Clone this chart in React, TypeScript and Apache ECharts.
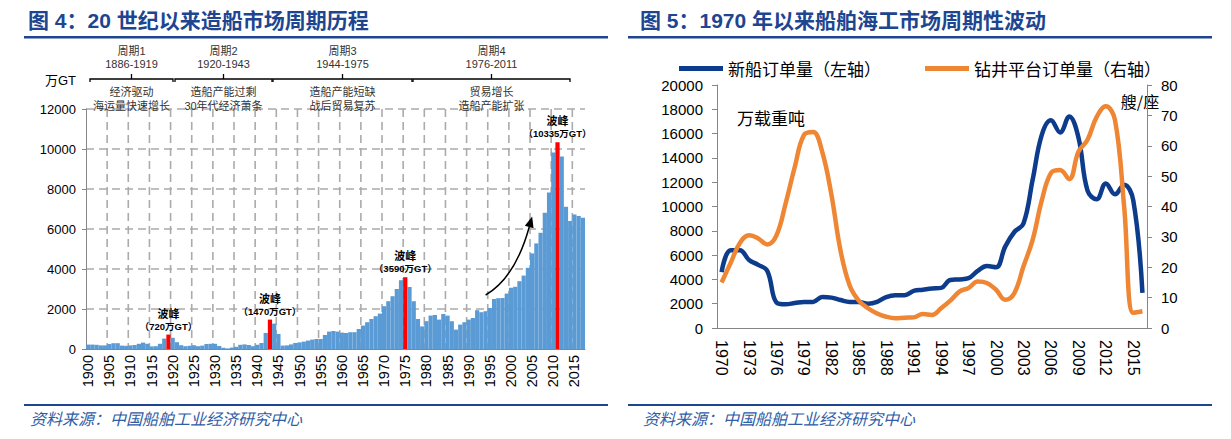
import React, { useEffect, useRef } from 'react';
import * as echarts from 'echarts';

// 图4：世界造船完工量（万GT），1900-2017
const barYears = Array.from({ length: 118 }, (_, i) => String(1900 + i));
const barValues = [
  220, 220, 210, 180, 180, 250, 290, 290, 170, 160,
  180, 200, 260, 320, 260, 130, 140, 260, 520, 720,
  560, 340, 190, 140, 160, 190, 140, 170, 250, 260,
  260, 150, 60, 30, 70, 110, 210, 230, 200, 140,
  210, 300, 800, 1470, 1270, 750, 170, 180, 230, 300,
  330, 370, 420, 470, 500, 500, 700, 870, 900, 870,
  820, 800, 840, 840, 1000, 1170, 1340, 1500, 1640, 1770,
  2140, 2390, 2640, 3000, 3440, 3590, 3100, 2390, 1500, 1130,
  1390, 1670, 1700, 1470, 1750, 1670, 1390, 970, 1220, 1340,
  1470, 1550, 1940, 1840, 1890, 2050, 2500, 2540, 2550, 2770,
  3060, 3110, 3390, 3670, 4060, 4780, 5280, 5810, 6810, 7820,
  9820, 10335, 9620, 7110, 6400, 6730, 6650, 6560,
];
const peakYears = ['1919', '1943', '1975', '2011'];
const barTicks = [2000, 4000, 6000, 8000, 10000, 12000];

const periodNames = ['周期1', '周期2', '周期3', '周期4'];
const periodSpans = ['1886-1919', '1920-1943', '1944-1975', '1976-2011'];
const periodDrivers = [
  ['经济驱动', '海运量快速增长'],
  ['造船产能过剩', '30年代经济萧条'],
  ['造船产能短缺', '战后贸易复苏'],
  ['贸易增长', '造船产能扩张'],
];

// 图5：新船订单量（万载重吨）与钻井平台订单量（艘/座），1970-2016
const lineYears = Array.from({ length: 47 }, (_, i) => String(1970 + i));
const newShipOrders = [
  4600, 6400, 6400, 5600, 5200, 4700, 2100, 1950, 2050, 2150,
  2150, 2550, 2500, 2300, 2150, 2150, 2000, 2150, 2550, 2700,
  2700, 3050, 3150, 3250, 3300, 3950, 4000, 4100, 4700, 5100,
  5000, 6700, 7900, 8600, 12200, 15900, 17100, 16100, 17400, 15700,
  11300, 10600, 11900, 11000, 11800, 10500, 2900,
];
const rigOrders = [
  15, 21.5, 28, 30.5, 29.5, 27.5, 30.5, 41, 53, 63.5,
  64.5, 58, 44, 25.5, 14, 9, 6.5, 4.8, 3.7, 3.2,
  3.4, 3.5, 4.6, 4.3, 6.5, 9, 12, 13.2, 15.3, 14.8,
  12.6, 9.3, 11.5, 20.3, 29, 42, 51, 52, 49, 58,
  62, 69.5, 73, 68.5, 40, 5, 5.5,
];

const LATIN = '"Liberation Sans", "Noto Sans CJK SC", sans-serif';
const CJK = '"Noto Sans CJK SC", sans-serif';
const TITLE_BLUE = '#1D4590';
const AXIS_GREY = '#868686';
const GRID_GREY = '#ABABAB';
const plain = (v: number) => String(v);

const App = () => {
  const chartRef = useRef<HTMLDivElement>(null);

  useEffect(() => {
    document.body.style.margin = '0';
    if (!chartRef.current) return;
    const chart = echarts.init(chartRef.current, null, { renderer: 'svg' });

    const barData = barValues.map((v, i) =>
      peakYears.includes(barYears[i])
        ? { value: v, itemStyle: { color: '#FF0000' }, label: { show: true } }
        : v
    );

    chart.setOption({
      animation: false,
      textStyle: { fontFamily: LATIN },
      legend: {
        data: ['新船订单量（左轴）', '钻井平台订单量（右轴）'],
        left: 674,
        top: 55,
        icon: 'rect',
        itemWidth: 44,
        itemHeight: 5,
        itemGap: 44,
        textStyle: { fontSize: 17, color: '#000', fontFamily: CJK },
      },
      grid: [
        { left: 86, top: 109, width: 499, height: 240 },
        { left: 717, top: 85, width: 430, height: 243 },
      ],
      xAxis: [
        {
          type: 'category',
          gridIndex: 0,
          data: barYears,
          axisLine: { lineStyle: { color: AXIS_GREY } },
          axisTick: { interval: 0, length: 3, lineStyle: { color: AXIS_GREY } },
          axisLabel: { interval: 4, rotate: 90, fontSize: 14.5, color: '#000', margin: 6 },
          splitLine: { show: false },
        },
        {
          type: 'category',
          gridIndex: 1,
          data: lineYears,
          axisLine: { lineStyle: { color: AXIS_GREY } },
          axisTick: { interval: 0, length: 5, lineStyle: { color: AXIS_GREY } },
          axisLabel: { interval: 2, rotate: -90, fontSize: 16, color: '#000', margin: 12 },
          splitLine: { show: false },
        },
      ],
      yAxis: [
        {
          type: 'value',
          gridIndex: 0,
          min: 0,
          max: 12000,
          interval: 2000,
          axisLine: { show: true, lineStyle: { color: AXIS_GREY } },
          axisTick: { show: true, length: 4, lineStyle: { color: AXIS_GREY } },
          axisLabel: { fontSize: 13, color: '#000', margin: 10, formatter: plain },
          splitLine: { show: false },
        },
        {
          type: 'value',
          gridIndex: 1,
          min: 0,
          max: 20000,
          interval: 2000,
          axisLine: { show: true, lineStyle: { color: AXIS_GREY } },
          axisTick: { show: true, length: 5, lineStyle: { color: AXIS_GREY } },
          axisLabel: { fontSize: 15, color: '#000', margin: 14, formatter: plain },
          splitLine: { show: false },
        },
        {
          type: 'value',
          gridIndex: 1,
          position: 'right',
          min: 0,
          max: 80,
          interval: 10,
          axisLine: { show: true, lineStyle: { color: AXIS_GREY } },
          axisTick: { show: true, length: 5, lineStyle: { color: AXIS_GREY } },
          axisLabel: { fontSize: 15, color: '#000', margin: 14, formatter: plain },
          splitLine: { show: false },
        },
      ],
      series: [
        {
          name: '造船完工量',
          type: 'bar',
          xAxisIndex: 0,
          yAxisIndex: 0,
          data: barData,
          barCategoryGap: '0%',
          z: 3,
          itemStyle: { color: '#5B9BD5' },
          label: {
            show: false,
            position: 'top',
            distance: 2,
            formatter: (p: any) => `{a|波峰}\n{b|（${p.value}万GT）}`,
            rich: {
              a: { fontSize: 11, fontWeight: 'bold', color: '#000', lineHeight: 14, fontFamily: CJK },
              b: { fontSize: 9.5, fontWeight: 'bold', color: '#000', lineHeight: 13 },
            },
          },
        },
        {
          name: '新船订单量（左轴）',
          type: 'line',
          xAxisIndex: 1,
          yAxisIndex: 1,
          data: newShipOrders,
          smooth: 0.4,
          showSymbol: false,
          lineStyle: { width: 4.5, color: '#0D3C8C' },
          itemStyle: { color: '#0D3C8C' },
        },
        {
          name: '钻井平台订单量（右轴）',
          type: 'line',
          xAxisIndex: 1,
          yAxisIndex: 2,
          data: rigOrders,
          smooth: 0.4,
          showSymbol: false,
          lineStyle: { width: 4.5, color: '#EF8633' },
          itemStyle: { color: '#EF8633' },
        },
      ],
    });

    const toPx = (x: string, y: number) =>
      chart.convertToPixel({ xAxisIndex: 0, yAxisIndex: 0 }, [x, y]) as number[];

    // dashed grid: every five years vertically, every tick horizontally
    const first = toPx(barYears[0], 0)[0];
    const last = toPx(barYears[barYears.length - 1], 0)[0];
    const band = (last - first) / (barYears.length - 1);
    const gridLeft = first - band / 2;
    const gridRight = last + band / 2;
    const gridTop = toPx(barYears[0], 12000)[1];
    const gridBottom = toPx(barYears[0], 0)[1];
    const dashLine = (x1: number, y1: number, x2: number, y2: number) => ({
      type: 'line',
      shape: { x1, y1, x2, y2 },
      style: { stroke: GRID_GREY, lineWidth: 1.6, lineDash: [8, 5] },
    });
    const gridLines: any[] = [];
    for (let k = 5; k < barYears.length; k += 5) {
      const xb = toPx(barYears[k], 0)[0] - band / 2;
      gridLines.push(dashLine(xb, gridTop, xb, gridBottom));
    }
    barTicks.forEach((t) => {
      const yb = toPx(barYears[0], t)[1];
      gridLines.push(dashLine(gridLeft, yb, gridRight, yb));
    });

    // curved arrow across the 1994-2005 climb, placed through the axes
    const a0 = toPx('1994', 2700);
    const ac = toPx('2001', 3560);
    const a1 = toPx('2005', 6630);
    const dx = a1[0] - ac[0];
    const dy = a1[1] - ac[1];
    const len = Math.hypot(dx, dy);
    const ux = dx / len;
    const uy = dy / len;
    const headL = 11;
    const headW = 4.5;
    const base = [a1[0] - ux * headL, a1[1] - uy * headL];

    const brackets = [
      [90, 173],
      [175, 272],
      [273, 412],
      [413, 570],
    ];
    const smallText = () => ({ fontSize: 11, fill: '#333', align: 'center', verticalAlign: 'middle', fontFamily: LATIN });

    const graphic: any[] = [
      { type: 'group', z: -1, children: gridLines },
      // titles and rules
      { type: 'text', x: 28, y: 20, style: { text: '图 4：20 世纪以来造船市场周期历程', fontSize: 21, fontWeight: 'bold', fill: TITLE_BLUE, verticalAlign: 'middle', fontFamily: LATIN } },
      { type: 'text', x: 640, y: 20, style: { text: '图 5：1970 年以来船舶海工市场周期性波动', fontSize: 21, fontWeight: 'bold', fill: TITLE_BLUE, verticalAlign: 'middle', fontFamily: LATIN } },
      { type: 'rect', shape: { x: 24, y: 36, width: 584, height: 2.5 }, style: { fill: TITLE_BLUE } },
      { type: 'rect', shape: { x: 628, y: 36, width: 584, height: 2.5 }, style: { fill: TITLE_BLUE } },
      { type: 'rect', shape: { x: 24, y: 404, width: 584, height: 2 }, style: { fill: TITLE_BLUE } },
      { type: 'rect', shape: { x: 628, y: 404, width: 584, height: 2 }, style: { fill: TITLE_BLUE } },
      { type: 'text', x: 30, y: 418, style: { text: '资料来源：中国船舶工业经济研究中心', fontSize: 16, fontStyle: 'italic', fill: '#2F5DA6', verticalAlign: 'middle', fontFamily: CJK } },
      { type: 'text', x: 643, y: 418, style: { text: '资料来源：中国船舶工业经济研究中心', fontSize: 16, fontStyle: 'italic', fill: '#2F5DA6', verticalAlign: 'middle', fontFamily: CJK } },
      // axis units
      { type: 'text', x: 76, y: 80, style: { text: '万GT', fontSize: 13, fill: '#000', align: 'right', verticalAlign: 'middle', fontFamily: LATIN } },
      { type: 'text', x: 737, y: 117, style: { text: '万载重吨', fontSize: 17, fill: '#000', verticalAlign: 'middle', fontFamily: CJK } },
      { type: 'text', x: 1140, y: 101, style: { text: '艘/座', fontSize: 16, fill: '#000', align: 'center', verticalAlign: 'middle', fontFamily: CJK } },
      // arrow
      {
        type: 'bezierCurve',
        z: 10,
        shape: { x1: a0[0], y1: a0[1], x2: base[0], y2: base[1], cpx1: ac[0], cpy1: ac[1] },
        style: { stroke: '#000', lineWidth: 1.5, fill: 'none' },
      },
      {
        type: 'polygon',
        z: 10,
        shape: {
          points: [
            [a1[0], a1[1]],
            [base[0] - uy * headW, base[1] + ux * headW],
            [base[0] + uy * headW, base[1] - ux * headW],
          ],
        },
        style: { fill: '#000' },
      },
    ];

    brackets.forEach(([x0, x1], i) => {
      const mid = (x0 + x1) / 2;
      graphic.push(
        { type: 'polyline', shape: { points: [[x0, 82], [x0, 79], [x1, 79], [x1, 82]] }, style: { stroke: '#000', lineWidth: 1.3, fill: 'none' } },
        { type: 'line', shape: { x1: mid, y1: 79, x2: mid, y2: 74 }, style: { stroke: '#000', lineWidth: 1.3 } },
        { type: 'text', x: mid, y: 51, style: { ...smallText(), text: periodNames[i] } },
        { type: 'text', x: mid, y: 64, style: { ...smallText(), text: periodSpans[i] } },
        { type: 'text', x: mid, y: 92, style: { ...smallText(), text: periodDrivers[i][0] } },
        { type: 'text', x: mid, y: 106, style: { ...smallText(), text: periodDrivers[i][1] } },
      );
    });

    chart.setOption({ graphic });

    return () => {
      chart.dispose();
    };
  }, []);

  return <div ref={chartRef} style={{ width: '1231px', height: '439px' }} />;
};

export default App;
